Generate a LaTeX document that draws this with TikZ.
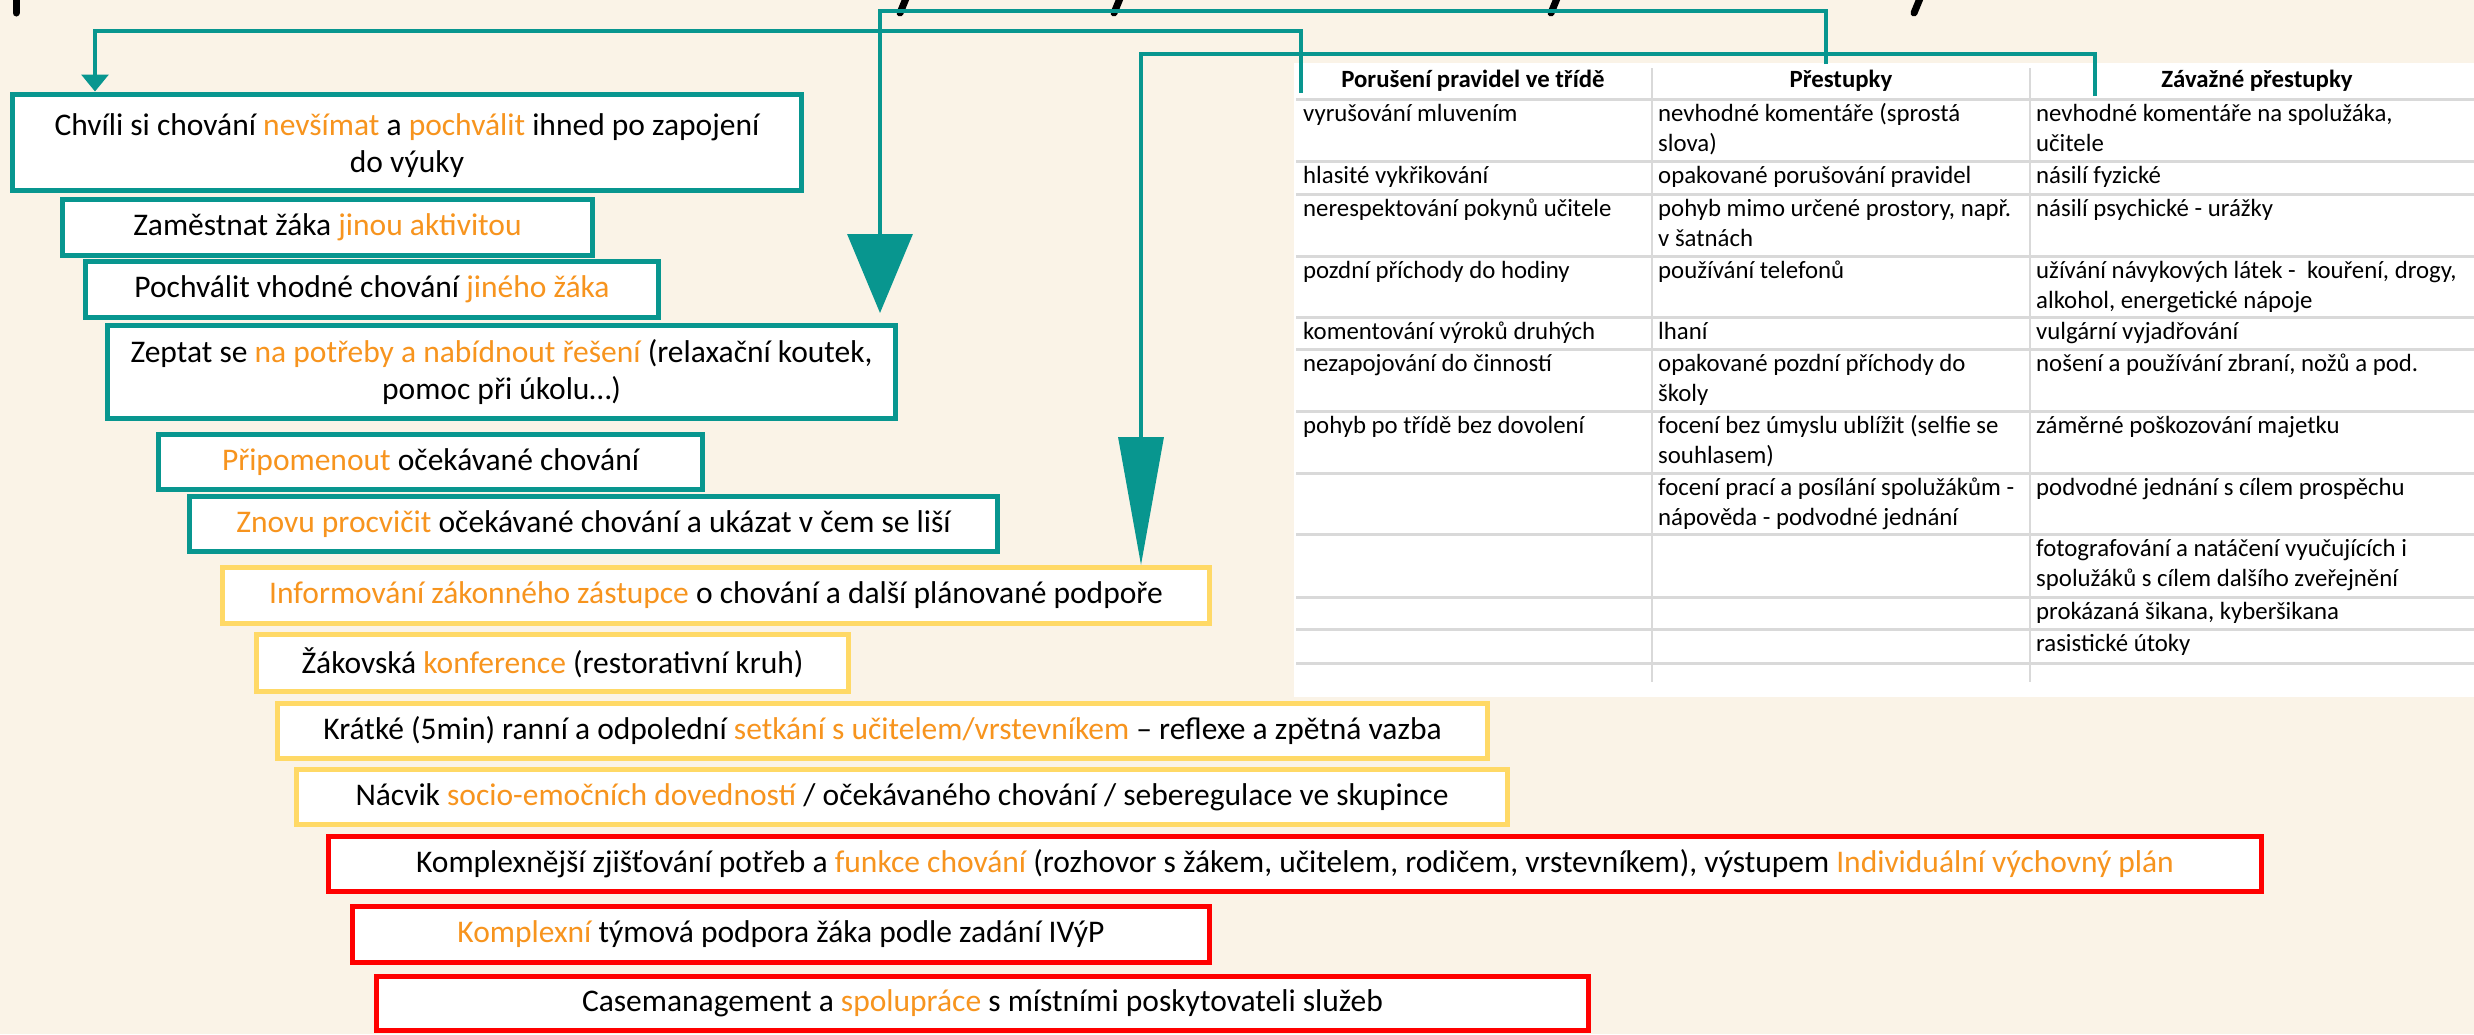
\documentclass[tikz,border=0pt]{standalone}
\usepackage{fontspec}
\setmainfont{Carlito}
\usetikzlibrary{arrows.meta,calc}
\definecolor{bgc}{RGB}{250,243,231}
\definecolor{teal1}{RGB}{8,150,143}
\definecolor{orng}{RGB}{247,148,30}
\definecolor{ylw}{RGB}{255,217,102}
\definecolor{redb}{RGB}{255,0,0}
\definecolor{gridg}{RGB}{217,217,217}
\newcommand\orn[1]{\textcolor{orng}{#1}}
\newcommand\boxfont{\fontsize{31.5}{37}\selectfont}
\newcommand\cellfont{\fontsize{24.8}{30}\selectfont}
\tikzset{
 box/.style={draw, fill=white, line width=5pt, inner sep=0pt, align=center, font=\boxfont},
 tbox/.style={box, draw=teal1},
 ybox/.style={box, draw=ylw},
 rbox/.style={box, draw=redb},
 conn/.style={draw=teal1, line width=3.3pt},
 cell/.style={anchor=north west, inner sep=0pt, align=left, font=\cellfont},
 hcell/.style={anchor=center, inner sep=0pt, font=\cellfont\bfseries},
 frag/.style={line width=7pt, line cap=round, black},
 gline/.style={draw=gridg, line width=3pt},
 vline/.style={draw=gridg, line width=1.5pt},
}
\begin{document}
\begin{tikzpicture}[x=1pt,y=-1pt]
\useasboundingbox (0,0) rectangle (2474,1034);
\fill[bgc] (0,0) rectangle (2474,1034);
% cut-off title fragments
\draw[frag] (16,-4) -- (16,13);
\draw[frag] (907,-4) -- (900,13);
\draw[frag] (1121,-4) -- (1114,13);
\draw[frag] (1558,-4) -- (1551,13);
\draw[frag] (1921,-4) -- (1914,13);
% table
\fill[white] (1294,63) rectangle (2474,697);
\foreach \yy in {99,161,194,256,317,349,411,473,534,597,629,663}
  \draw[gline] (1296,\yy) -- (2474,\yy);
\foreach \xx in {1652,2030}
  \draw[vline] (\xx,68) -- (\xx,682);
\node[hcell] (h1) at (1473,81) {Porušení pravidel ve třídě};
\node[hcell] (h2) at (1841,81) {Přestupky};
\node[hcell] (h3) at (2257,81) {Závažné přestupky};
% row 1
\node[cell] (a1) at (1303,100) {\strut vyrušování mluvením};
\node[cell] (b1) at (1658,100) {\strut nevhodné komentáře (sprostá\\slova)};
\node[cell] (c1) at (2036,100) {\strut nevhodné komentáře na spolužáka,\\učitele};
% row 2
\node[cell] (a2) at (1303,162) {\strut hlasité vykřikování};
\node[cell] (b2) at (1658,162) {\strut opakované porušování pravidel};
\node[cell] (c2) at (2036,162) {\strut násilí fyzické};
% row 3
\node[cell] (a3) at (1303,195) {\strut nerespektování pokynů učitele};
\node[cell] (b3) at (1658,195) {\strut pohyb mimo určené prostory, např.\\v šatnách};
\node[cell] (c3) at (2036,195) {\strut násilí psychické - urážky};
% row 4
\node[cell] (a4) at (1303,257) {\strut pozdní příchody do hodiny};
\node[cell] (b4) at (1658,257) {\strut používání telefonů};
\node[cell] (c4) at (2036,257) {\strut užívání návykových látek -\ \ kouření, drogy,\\alkohol, energetické nápoje};
% row 5
\node[cell] (a5) at (1303,318) {\strut komentování výroků druhých};
\node[cell] (b5) at (1658,318) {\strut lhaní};
\node[cell] (c5) at (2036,318) {\strut vulgární vyjadřování};
% row 6
\node[cell] (a6) at (1303,350) {\strut nezapojování do činností};
\node[cell] (b6) at (1658,350) {\strut opakované pozdní příchody do\\školy};
\node[cell] (c6) at (2036,350) {\strut nošení a používání zbraní, nožů a pod.};
% row 7
\node[cell] (a7) at (1303,412) {\strut pohyb po třídě bez dovolení};
\node[cell] (b7) at (1658,412) {\strut focení bez úmyslu ublížit (selfie se\\souhlasem)};
\node[cell] (c7) at (2036,412) {\strut záměrné poškozování majetku};
% row 8
\node[cell] (b8) at (1658,474) {\strut focení prací a posílání spolužákům -\\nápověda - podvodné jednání};
\node[cell] (c8) at (2036,474) {\strut podvodné jednání s cílem prospěchu};
% row 9-11
\node[cell] (c9) at (2036,535) {\strut fotografování a natáčení vyučujících i\\spolužáků s cílem dalšího zveřejnění};
\node[cell] (c10) at (2036,598) {\strut prokázaná šikana, kyberšikana};
\node[cell] (c11) at (2036,630) {\strut rasistické útoky};
% boxes
\node[tbox, minimum width=789pt, minimum height=96pt] (B1) at (407,142)
  {\rule{0pt}{30pt}Chvíli si chování \orn{nevšímat} a \orn{pochválit} ihned po zapojení\\do výuky};
\node[tbox, minimum width=530pt, minimum height=56pt] (B2) at (327.5,227.5)
  {Zaměstnat žáka \orn{jinou aktivitou}};
\node[tbox, minimum width=573pt, minimum height=56pt] (B3) at (372,289.5)
  {Pochválit vhodné chování \orn{jiného žáka}};
\node[tbox, minimum width=788pt, minimum height=93pt] (B4) at (501.5,372)
  {Zeptat se \orn{na potřeby a nabídnout řešení} (relaxační koutek,\\pomoc při úkolu…)};
\node[tbox, minimum width=544pt, minimum height=55pt] (B5) at (430.5,462)
  {\orn{Připomenout} očekávané chování};
\node[tbox, minimum width=808pt, minimum height=55pt] (B6) at (593.5,524)
  {\orn{Znovu procvičit} očekávané chování a ukázat v čem se liší};
\node[ybox, minimum width=987pt, minimum height=56pt] (B7) at (716,595.5)
  {\orn{Informování zákonného zástupce} o chování a další plánované podpoře};
\node[ybox, minimum width=592pt, minimum height=57pt] (B8) at (552.5,663)
  {Žákovská \orn{konference} (restorativní kruh)};
\node[ybox, minimum width=1210pt, minimum height=55pt] (B9) at (882.5,731)
  {Krátké (5min) ranní a odpolední \orn{setkání s učitelem/vrstevníkem} – reflexe a zpětná vazba};
\node[ybox, minimum width=1211pt, minimum height=55pt] (B10) at (902,797)
  {Nácvik \orn{socio-emočních dovedností} / očekávaného chování / seberegulace ve skupince};
\node[rbox, minimum width=1933pt, minimum height=55pt] (B11) at (1295,864)
  {Komplexnější zjišťování potřeb a \orn{funkce chování} (rozhovor s žákem, učitelem, rodičem, vrstevníkem), výstupem \orn{Individuální výchovný plán}};
\node[rbox, minimum width=857pt, minimum height=56pt] (B12) at (781,934.5)
  {\orn{Komplexní} týmová podpora žáka podle zadání IVýP};
\node[rbox, minimum width=1212pt, minimum height=54pt] (B13) at (982.5,1003.5)
  {Casemanagement a \orn{spolupráce} s místními poskytovateli služeb};
% connectors
\coordinate (cA) at (1301,93);
\coordinate (cB) at (1826,64);
\coordinate (cC) at (2095,96);
\coordinate (kA) at (95,31);
\coordinate (kB) at (880,11);
\coordinate (kC) at (1141,54);
\draw[conn, -{Triangle[width=27pt,length=17pt]}] (cA) |- (kA) -- (kA |- B1.north);
\draw[conn, -{Triangle[width=65pt,length=79pt]}] (cB) |- (kB) -- ($(kB |- B4.north)+(0,-10)$);
\draw[conn, -{Triangle[width=45pt,length=128pt]}] (cC) |- (kC) -- (kC |- B7.north);
\end{tikzpicture}
\end{document}
